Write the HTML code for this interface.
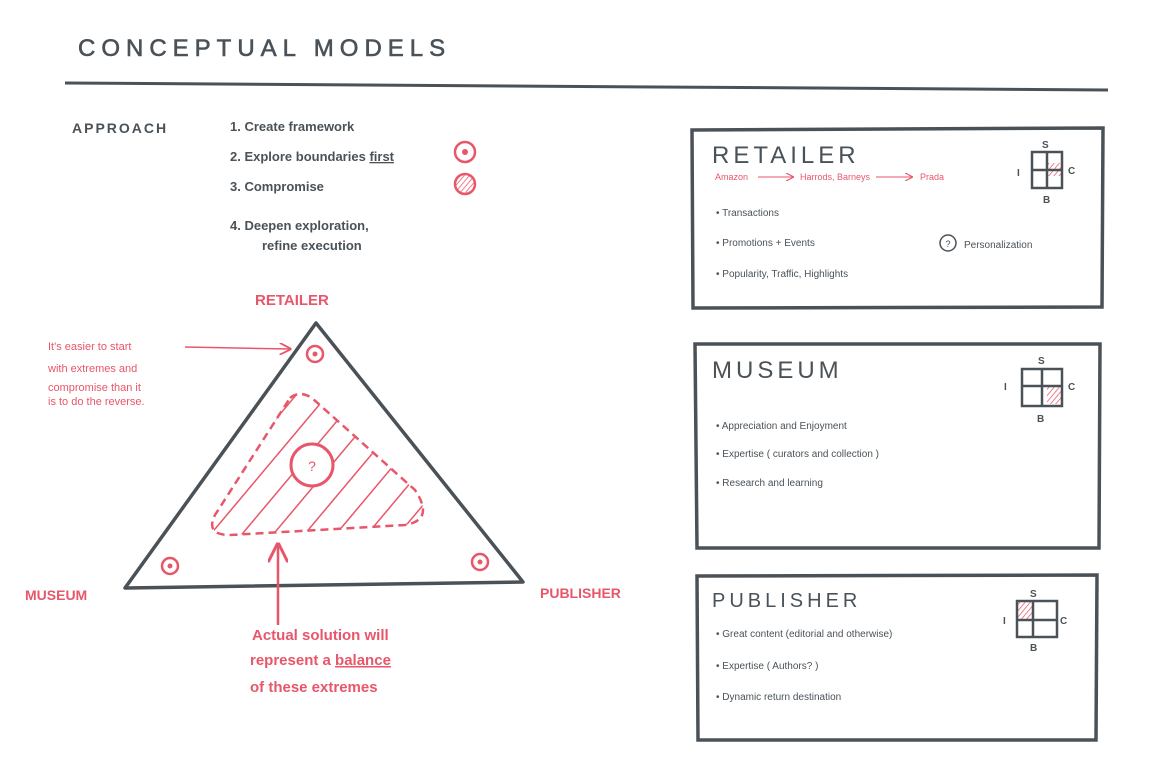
<!DOCTYPE html>
<html><head><meta charset="utf-8"><style>
html,body{margin:0;padding:0;background:#fff}
svg{display:block}
text{font-family:"Liberation Sans",sans-serif}
.g{fill:#4a5258}.r{fill:#e8566a}
</style></head><body>
<svg width="1175" height="758" viewBox="0 0 1175 758" xmlns="http://www.w3.org/2000/svg">
<defs>
<pattern id="h" width="24" height="24" patternUnits="userSpaceOnUse" patternTransform="rotate(40)">
<line x1="0" y1="0" x2="0" y2="24" stroke="#e8566a" stroke-width="3"/>
</pattern>
<pattern id="h2" width="4" height="4" patternUnits="userSpaceOnUse" patternTransform="rotate(40)">
<line x1="0" y1="0" x2="0" y2="4" stroke="#e8566a" stroke-width="1.5"/>
</pattern>
<marker id="ar" markerWidth="8" markerHeight="8" refX="7" refY="4" orient="auto"><path d="M0,0 L8,4 L0,8" fill="none" stroke="#e8566a" stroke-width="1.2"/></marker>
</defs>
<text x="78" y="56" class="g" font-size="24" letter-spacing="6" stroke="#4a5258" stroke-width="0.6">CONCEPTUAL MODELS</text>
<line x1="65" y1="83" x2="1108" y2="90" stroke="#4a5258" stroke-width="3"/>

<text x="72" y="133" class="g" font-size="14" font-weight="bold" letter-spacing="2">APPROACH</text>
<g class="g" font-size="13" font-weight="bold">
<text x="230" y="131">1.  Create framework</text>
<text x="230" y="161">2.  Explore boundaries <tspan text-decoration="underline">first</tspan></text>
<text x="230" y="191">3.  Compromise</text>
<text x="230" y="230">4.  Deepen exploration,</text>
<text x="262" y="250">refine execution</text>
</g>
<circle cx="465" cy="152" r="10" fill="none" stroke="#e8566a" stroke-width="2.5"/><circle cx="465" cy="152" r="3" fill="#e8566a"/>
<circle cx="465" cy="184" r="10" fill="url(#h2)" stroke="#e8566a" stroke-width="2.5"/>

<text x="255" y="305" class="r" font-size="15" font-weight="bold">RETAILER</text>
<text x="25" y="600" class="r" font-size="14" font-weight="bold">MUSEUM</text>
<text x="540" y="598" class="r" font-size="14" font-weight="bold">PUBLISHER</text>
<g class="r" font-size="11">
<text x="48" y="350">It's easier to start</text>
<text x="48" y="372">with extremes and</text>
<text x="48" y="391">compromise than it</text>
<text x="48" y="405">is to do the reverse.</text>
</g>
<line x1="185" y1="347" x2="290" y2="349" stroke="#e8566a" stroke-width="1.5" marker-end="url(#ar)"/>

<polygon points="316,323 125,588 523,582" fill="none" stroke="#4a5258" stroke-width="3.5" stroke-linejoin="round"/>
<path d="M290,398 Q300,390 312,398 L415,490 Q435,520 405,525 L230,535 Q205,535 215,515 Z" fill="url(#h)" stroke="#e8566a" stroke-width="2.5" stroke-dasharray="8,5"/>
<circle cx="312" cy="465" r="21" fill="#fff" stroke="#e8566a" stroke-width="3"/>
<text x="312" y="471" class="r" font-size="14" text-anchor="middle">?</text>
<g fill="none" stroke="#e8566a" stroke-width="2.5">
<circle cx="315" cy="354" r="8"/><circle cx="170" cy="566" r="8"/><circle cx="480" cy="562" r="8"/>
</g>
<g class="r"><circle cx="315" cy="354" r="2.5"/><circle cx="170" cy="566" r="2.5"/><circle cx="480" cy="562" r="2.5"/></g>
<line x1="278" y1="625" x2="278" y2="545" stroke="#e8566a" stroke-width="2.5" marker-end="url(#ar)"/>
<g class="r" font-size="15" font-weight="bold">
<text x="252" y="640">Actual solution will</text>
<text x="250" y="665">represent a <tspan text-decoration="underline">balance</tspan></text>
<text x="250" y="692">of these extremes</text>
</g>

<g fill="none" stroke="#4a5258" stroke-width="3.5">
<path d="M692,130 L1103,128 L1102,307 L693,308 Z"/>
<path d="M695,344 L1100,344 L1099,548 L697,548 Z"/>
<path d="M697,576 L1097,575 L1096,740 L698,740 Z"/>
</g>
<g class="g" font-size="24" letter-spacing="4">
<text x="712" y="163">RETAILER</text>
<text x="712" y="378">MUSEUM</text>
<text x="712" y="607" font-size="20">PUBLISHER</text>
</g>
<g class="r" font-size="9">
<text x="715" y="180">Amazon</text><text x="800" y="180">Harrods, Barneys</text><text x="920" y="180">Prada</text>
</g>
<line x1="758" y1="177" x2="793" y2="177" stroke="#e8566a" stroke-width="1" marker-end="url(#ar)"/>
<line x1="876" y1="177" x2="912" y2="177" stroke="#e8566a" stroke-width="1" marker-end="url(#ar)"/>
<g class="g" font-size="10">
<text x="716" y="216">•  Transactions</text>
<text x="716" y="246">•  Promotions + Events</text>
<text x="716" y="277">•  Popularity, Traffic, Highlights</text>
<text x="964" y="248">Personalization</text>
<text x="716" y="429">•  Appreciation and Enjoyment</text>
<text x="716" y="457">•  Expertise  ( curators and collection )</text>
<text x="716" y="486">•  Research and learning</text>
<text x="716" y="637">•  Great content (editorial and otherwise)</text>
<text x="716" y="669">•  Expertise  ( Authors? )</text>
<text x="716" y="700">•  Dynamic return destination</text>
</g>
<circle cx="948" cy="243" r="8" fill="none" stroke="#4a5258" stroke-width="1.5"/>
<text x="948" y="247" class="g" font-size="9" text-anchor="middle">?</text>

<g font-size="10" font-weight="bold" class="g">
<rect x="1046" y="163" width="15" height="13" fill="url(#h2)"/>
<rect x="1032" y="152" width="30" height="36" fill="none" stroke="#4a5258" stroke-width="2.5"/>
<line x1="1047" y1="152" x2="1047" y2="188" stroke="#4a5258" stroke-width="2.5"/><line x1="1032" y1="170" x2="1062" y2="170" stroke="#4a5258" stroke-width="2.5"/>
<text x="1042" y="148">S</text><text x="1017" y="176">I</text><text x="1068" y="174">C</text><text x="1043" y="203">B</text>

<rect x="1047" y="386" width="15" height="18" fill="url(#h2)"/>
<rect x="1022" y="369" width="40" height="37" fill="none" stroke="#4a5258" stroke-width="2.5"/>
<line x1="1042" y1="369" x2="1042" y2="406" stroke="#4a5258" stroke-width="2.5"/><line x1="1022" y1="386" x2="1062" y2="386" stroke="#4a5258" stroke-width="2.5"/>
<text x="1038" y="364">S</text><text x="1004" y="390">I</text><text x="1068" y="390">C</text><text x="1037" y="422">B</text>

<rect x="1018" y="602" width="14" height="18" fill="url(#h2)"/>
<rect x="1017" y="601" width="40" height="36" fill="none" stroke="#4a5258" stroke-width="2.5"/>
<line x1="1033" y1="601" x2="1033" y2="637" stroke="#4a5258" stroke-width="2.5"/><line x1="1017" y1="620" x2="1057" y2="620" stroke="#4a5258" stroke-width="2.5"/>
<text x="1030" y="597">S</text><text x="1003" y="624">I</text><text x="1060" y="624">C</text><text x="1030" y="651">B</text>
</g>
</svg>
</body></html>
